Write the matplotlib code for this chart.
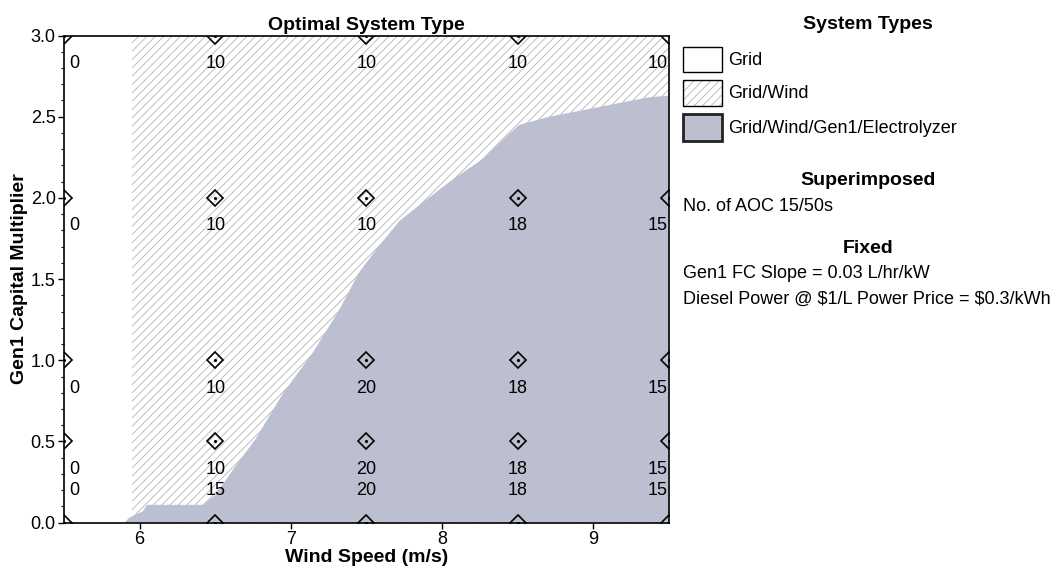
import numpy as np
import matplotlib
matplotlib.use("Agg")
import matplotlib.pyplot as plt
from matplotlib.patches import Rectangle
from matplotlib.ticker import MultipleLocator, FormatStrFormatter

plt.rcParams['font.family'] = ['Liberation Sans', 'DejaVu Sans']
plt.rcParams['hatch.linewidth'] = 0.5

# sensitivity grid
wind_speeds = [5.5, 6.5, 7.5, 8.5, 9.5]
multipliers = [0.0, 0.5, 1.0, 2.0, 3.0]
# No. of AOC 15/50s, one row per multiplier
aoc_counts = [
    [0, 15, 20, 18, 15],
    [0, 10, 20, 18, 15],
    [0, 10, 20, 18, 15],
    [0, 10, 10, 18, 15],
    [0, 10, 10, 10, 10],
]

# region borders
grid_wind_start = 5.95
gen1_edge_x = [5.90, 5.93, 6.02, 6.05, 6.42, 6.50, 6.62, 6.77, 6.95, 7.14, 7.32,
               7.45, 7.58, 7.72, 8.05, 8.27, 8.45, 8.51, 8.71, 9.04, 9.37, 9.50]
gen1_edge_y = [0.00, 0.03, 0.07, 0.11, 0.11, 0.17, 0.33, 0.52, 0.80, 1.04, 1.31,
               1.54, 1.70, 1.86, 2.10, 2.24, 2.40, 2.45, 2.50, 2.56, 2.62, 2.63]

GREY = '#bcbfcf'
HATCH_COL = '#a6a6a6'

fig = plt.figure(figsize=(10.6, 5.69), dpi=100)
ax = fig.add_axes([0.0604, 0.0814, 0.5706, 0.8562])

xlo, xhi = wind_speeds[0], wind_speeds[-1]
ylo, yhi = multipliers[0], multipliers[-1]

# Grid/Wind (hatched)
ax.fill_between([grid_wind_start, xhi], ylo, yhi, facecolor='white',
                edgecolor=HATCH_COL, hatch='////', linewidth=0, zorder=1)
# Grid/Wind/Gen1/Electrolyzer
ax.fill_between(gen1_edge_x, ylo, gen1_edge_y, facecolor=GREY,
                edgecolor='none', zorder=2)

X, Y = np.meshgrid(wind_speeds, multipliers)
ax.plot(X.ravel(), Y.ravel(), 'D', ms=8.5, mfc='none', mec='black', mew=1.2, zorder=4)
ax.plot(X.ravel(), Y.ravel(), '.', ms=2.5, color='black', zorder=4)

for i, yv in enumerate(multipliers):
    for j, xv in enumerate(wind_speeds):
        dy = 23 if i == 0 else -20
        if j == 0:
            ha, dx = 'left', 4
        elif j == len(wind_speeds) - 1:
            ha, dx = 'right', -1
        else:
            ha, dx = 'center', 0
        ax.annotate(str(aoc_counts[i][j]), (xv, yv), xytext=(dx, dy),
                    textcoords='offset points', ha=ha, va='center',
                    fontsize=13, zorder=5, annotation_clip=False)

ax.set_xlim(xlo, xhi)
ax.set_ylim(ylo, yhi)
ax.xaxis.set_major_locator(MultipleLocator(1))
ax.yaxis.set_major_locator(MultipleLocator(0.5))
ax.yaxis.set_minor_locator(MultipleLocator(0.1))
ax.yaxis.set_major_formatter(FormatStrFormatter('%.1f'))
ax.tick_params(which='major', direction='out', length=4, width=1, labelsize=13, pad=2)
ax.tick_params(which='minor', direction='out', length=2, width=0.8)
for s in ax.spines.values():
    s.set_linewidth(1.2)
    s.set_zorder(6)

ax.set_title('Optimal System Type', fontsize=14, fontweight='bold', pad=4)
ax.set_xlabel('Wind Speed (m/s)', fontsize=14, fontweight='bold', labelpad=1)
ax.set_ylabel('Gen1 Capital Multiplier', fontsize=14, fontweight='bold', labelpad=2)

# side panel, pixel coordinates
lax = fig.add_axes([0, 0, 1, 1])
lax.set_xlim(0, 1060)
lax.set_ylim(569, 0)
lax.axis('off')

cx = 868
lax.text(cx, 24, 'System Types', ha='center', va='center', fontsize=14, fontweight='bold')
lax.add_patch(Rectangle((683, 47), 39, 25, facecolor='white', edgecolor='black', lw=1))
lax.add_patch(Rectangle((683, 80), 39, 26, facecolor='white', edgecolor=HATCH_COL,
                        hatch='////', lw=0))
lax.add_patch(Rectangle((683, 80), 39, 26, facecolor='none', edgecolor='black', lw=1))
lax.add_patch(Rectangle((683, 114), 39, 27, facecolor=GREY, edgecolor='#222222', lw=2))
lax.text(728, 60, 'Grid', va='center', fontsize=13)
lax.text(728, 93, 'Grid/Wind', va='center', fontsize=13)
lax.text(728, 128, 'Grid/Wind/Gen1/Electrolyzer', va='center', fontsize=13)

lax.text(cx, 180, 'Superimposed', ha='center', va='center', fontsize=14, fontweight='bold')
lax.text(683, 206, 'No. of AOC 15/50s', va='center', fontsize=13)
lax.text(cx, 248, 'Fixed', ha='center', va='center', fontsize=14, fontweight='bold')
lax.text(683, 273, 'Gen1 FC Slope = 0.03 L/hr/kW', va='center', fontsize=13)
lax.text(683, 299, r'Diesel Power @ \$1/L Power Price = \$0.3/kWh', va='center', fontsize=13)

fig.savefig('out.png', dpi=100)
